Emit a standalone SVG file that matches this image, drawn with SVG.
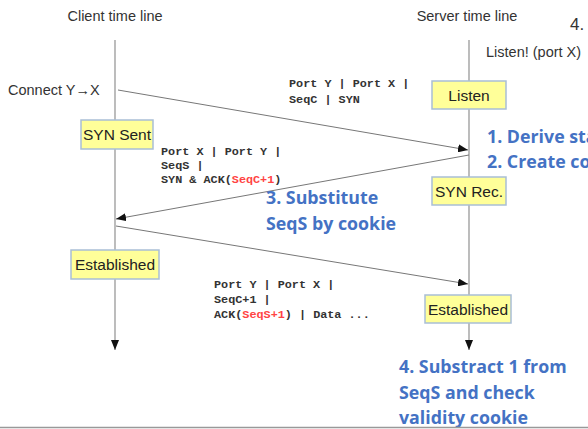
<svg xmlns="http://www.w3.org/2000/svg" width="588" height="429" viewBox="0 0 588 429">
  <defs>
    <marker id="head" viewBox="0 0 10 8" refX="10" refY="4" markerWidth="10" markerHeight="8" markerUnits="userSpaceOnUse" orient="auto">
      <path d="M0,0 L10,4 L0,8 Z" fill="#111"/>
    </marker>
  </defs>
  <style>
    .title { font-family: "Liberation Sans", Arial, sans-serif; font-size: 14.5px; fill: #333; }
    .lbl { font-family: "Liberation Sans", Arial, sans-serif; font-size: 15.5px; fill: #222; text-anchor: middle; }
    .box { fill: #FFFF99; stroke: #A9BED6; stroke-width: 1.5; }
    .tl { stroke: #999; stroke-width: 1.3; fill: none; }
    .msg { stroke: #777; stroke-width: 1; fill: none; }
    .mono { font-family: "Liberation Mono", "Courier New", monospace; font-size: 11.8px; font-weight: bold; fill: #333; }
    .red { fill: #FF4444; }
    .note { font-family: "Open Sans", "Noto Sans", sans-serif; font-size: 17.8px; font-weight: bold; fill: #4472C4; }
  </style>
  <rect width="588" height="429" fill="#fff"/>

  <!-- headings -->
  <text class="title" x="115" y="21" text-anchor="middle">Client time line</text>
  <text class="title" x="467" y="21" text-anchor="middle">Server time line</text>
  <text class="title" x="570" y="30" style="font-size:17px">4.</text>
  <text class="title" x="486" y="57">Listen! (port X)</text>
  <text class="title" x="8" y="95">Connect Y→X</text>

  <!-- time lines -->
  <g id="timelines">
    <line class="tl" x1="115" y1="40" x2="115" y2="350" marker-end="url(#head)"/>
    <line class="tl" x1="469" y1="40" x2="469" y2="350" marker-end="url(#head)"/>
  </g>

  <!-- messages -->
  <g id="connectors">
    <line class="msg" x1="118" y1="90" x2="468" y2="150" marker-end="url(#head)"/>
    <line class="msg" x1="469" y1="155" x2="116" y2="219" marker-end="url(#head)"/>
    <line class="msg" x1="116" y1="226" x2="468" y2="284" marker-end="url(#head)"/>
  </g>

  <!-- state boxes -->
  <g id="listen">
    <rect class="box" x="432" y="81" width="74" height="28"/>
    <text class="lbl" x="469" y="100.5">Listen</text>
  </g>
  <g id="syn-sent">
    <rect class="box" x="81" y="120" width="72" height="29"/>
    <text class="lbl" x="117" y="140">SYN Sent</text>
  </g>
  <g id="syn-rec">
    <rect class="box" x="432" y="177" width="74" height="28"/>
    <text class="lbl" x="469" y="196.5">SYN Rec.</text>
  </g>
  <g id="client-established">
    <rect class="box" x="71" y="250" width="88" height="29"/>
    <text class="lbl" x="115" y="270">Established</text>
  </g>
  <g id="server-established">
    <rect class="box" x="425" y="295" width="86" height="28"/>
    <text class="lbl" x="468" y="314.5">Established</text>
  </g>

  <!-- segment headers -->
  <g id="syn-header">
    <text class="mono" x="289" y="87">Port Y | Port X |</text>
    <text class="mono" x="289" y="103">SeqC | SYN</text>
  </g>
  <g id="synack-header">
    <text class="mono" x="161" y="155">Port X | Port Y |</text>
    <text class="mono" x="161" y="169">SeqS |</text>
    <text class="mono" x="161" y="183">SYN &amp; ACK(<tspan class="red">SeqC+1</tspan>)</text>
  </g>
  <g id="ack-header">
    <text class="mono" x="214" y="288">Port Y | Port X |</text>
    <text class="mono" x="214" y="303">SeqC+1 |</text>
    <text class="mono" x="214" y="318">ACK(<tspan class="red">SeqS+1</tspan>) | Data ...</text>
  </g>

  <!-- cookie steps -->
  <g id="steps">
    <text class="note" x="487" y="143">1. Derive sta</text>
    <text class="note" x="487" y="168">2. Create co</text>
    <text class="note" x="266" y="204">3. Substitute</text>
    <text class="note" x="266" y="230">SeqS by cookie</text>
    <text class="note" x="399" y="373">4. Substract 1 from</text>
    <text class="note" x="399" y="399">SeqS and check</text>
    <text class="note" x="399" y="424">validity cookie</text>
  </g>

  <line x1="0" y1="427.5" x2="588" y2="427.5" stroke="#999" stroke-width="1.5"/>
</svg>
